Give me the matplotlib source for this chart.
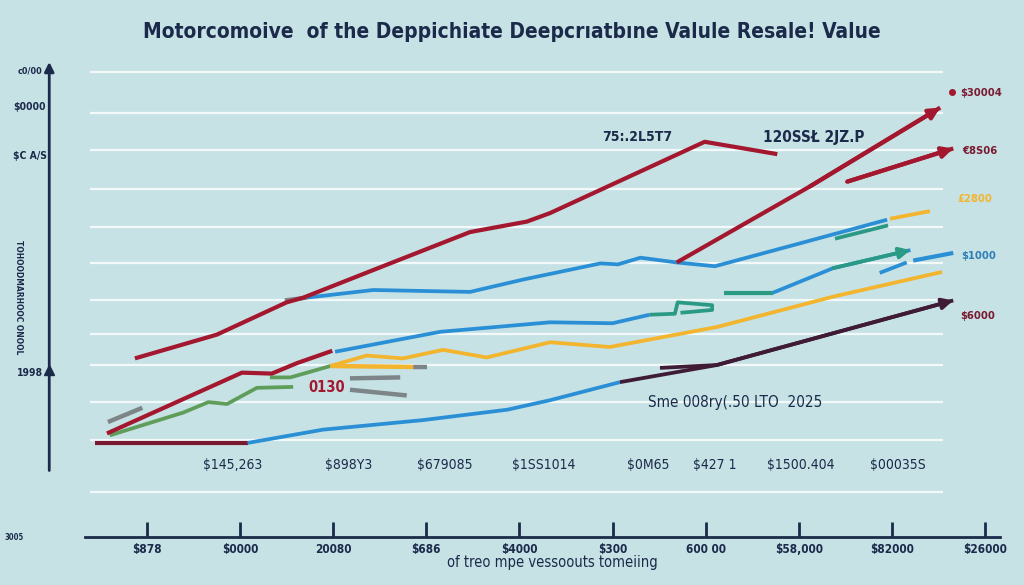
import matplotlib
matplotlib.use("Agg")
import matplotlib.pyplot as plt

plt.rcParams['font.family'] = ['DejaVu Sans']
plt.rcParams['font.stretch'] = 'condensed'

# ---- data (year, value in $k) ----
years_ticks = [2016, 2017, 2018, 2019, 2020, 2021, 2022, 2023, 2024, 2025]
tick_labels = ["$878", "$0000", "20080", "$686", "$4000", "$300", "600 00",
               "$58,000", "$82000", "$26000"]

red_top_x = [2015.87, 2016.75, 2017.50, 2017.68, 2018.43, 2019.47, 2020.08, 2020.33, 2021.99, 2022.77]
red_top_y = [18.8, 21.3, 24.7, 25.2, 28.1, 32.1, 33.2, 34.1, 41.6, 40.3]

red_rise_x = [2021.69, 2023.12, 2024.52]
red_rise_y = [28.9, 36.9, 45.2]

red_branch_x = [2023.52, 2024.66]
red_branch_y = [37.4, 40.9]

red_low_x = [2015.57, 2017.02, 2017.34, 2017.61, 2017.99]
red_low_y = [10.9, 17.3, 17.2, 18.3, 19.6]

blue_top_x = [2017.72, 2018.43, 2019.47, 2020.04, 2020.87, 2021.06, 2021.30, 2021.69, 2022.10, 2023.01, 2023.95]
blue_top_y = [25.2, 26.0, 25.8, 27.1, 28.8, 28.7, 29.4, 28.9, 28.5, 30.9, 33.4]

blue_mid_x = [2018.02, 2019.15, 2020.33, 2021.00, 2021.40]
blue_mid_y = [19.5, 21.6, 22.6, 22.5, 23.4]

teal_flag_x = [2021.40, 2021.67, 2021.70, 2022.07, 2022.07, 2021.73]
teal_flag_y = [23.4, 23.5, 24.7, 24.4, 23.9, 23.6]

teal_low_x = [2022.20, 2022.72]
teal_low_y = [25.7, 25.7]

blue_right_x = [2022.72, 2023.37, 2024.20]
blue_right_y = [25.7, 28.3, 30.2]

blue_strand_x = [2023.87, 2024.16]
blue_strand_y = [27.8, 28.9]

blue_streak_x = [2024.23, 2024.66]
blue_streak_y = [29.1, 29.9]

teal_top_x = [2023.39, 2023.96]
teal_top_y = [31.4, 32.8]

yellow_top_x = [2023.98, 2024.41]
yellow_top_y = [33.5, 34.3]

yellow_x = [2017.97, 2018.36, 2018.75, 2019.18, 2019.65, 2020.33, 2020.97, 2022.12, 2023.37, 2024.54]
yellow_y = [18.0, 19.1, 18.8, 19.7, 18.9, 20.5, 20.0, 22.1, 25.3, 27.9]

yellow_low_x = [2017.97, 2018.86]
yellow_low_y = [18.0, 17.9]

green_x = [2015.60, 2016.39, 2016.66, 2016.86, 2017.18, 2017.57]
green_y = [10.7, 13.1, 14.2, 14.0, 15.7, 15.8]

green_up_x = [2017.32, 2017.54, 2017.97]
green_up_y = [16.8, 16.8, 18.0]

gray_segs = [
    ([2015.58, 2015.95], [12.1, 13.6]),
    ([2018.18, 2018.72], [16.7, 16.8]),
    ([2018.18, 2018.79], [15.5, 14.9]),
    ([2017.48, 2017.72], [24.9, 25.2]),
    ([2018.86, 2019.01], [17.9, 17.9]),
]

base_x = [2015.44, 2017.08]
base_y = [9.9, 9.9]

blue_low_x = [2017.08, 2017.89, 2018.96, 2019.87, 2020.33, 2021.08]
blue_low_y = [9.9, 11.3, 12.3, 13.4, 14.4, 16.3]

purple_x = [2021.08, 2022.12, 2024.66]
purple_y = [16.3, 18.1, 24.9]

purple_short_x = [2021.51, 2022.12]
purple_short_y = [17.8, 18.1]

dot_x, dot_y = 2024.65, 46.8

grid_levels = [4.7, 10.2, 14.2, 18.1, 21.4, 24.9, 28.8, 32.6, 36.6, 40.7, 44.6, 48.9]

price_labels = ["$145,263", "$898Y3", "$679085", "$1SS1014", "$0M65", "$427 1",
                "$1500.404", "$00035S"]
price_px = [233, 349, 445, 544, 648, 715, 801, 898]

# ---- colours ----
BG = '#c6e2e5'
NAVY = '#1b2a4a'
RED = '#a3172f'
BLUE = '#2b8fd6'
YELLOW = '#f3b42e'
GREEN = '#5f9d5b'
TEAL = '#2a9a84'
GRAY = '#7d8588'
PURPLE = '#3f1b36'
DRED = '#7a1a31'

W, H = 1024, 585
fig = plt.figure(figsize=(W / 100, H / 100), dpi=100)
fig.patch.set_facecolor(BG)
ax = fig.add_axes([0, 0, 1, 1])
ax.set_facecolor(BG)
ax.set_xlim(2014.421, 2025.420)
ax.set_ylim(-5.053, 56.526)
ax.axis('off')


def fx(px):
    return px / W


def fy(py):
    return 1 - py / H


# grid
ax.hlines(grid_levels, 2015.39, 2024.55, color='white', lw=1.6, alpha=0.8, zorder=1)

lw = 2.7


def line(xs, ys, c, w=lw, arrow=False, z=3, ac=None):
    ax.plot(xs, ys, color=c, lw=w, solid_capstyle='butt', zorder=z)
    if arrow:
        ax.annotate('', xy=(xs[-1], ys[-1]), xytext=(xs[-2], ys[-2]),
                    arrowprops=dict(arrowstyle='-|>', color=ac or c, lw=w,
                                    mutation_scale=16, shrinkA=0, shrinkB=0),
                    zorder=z)


for gx, gy in gray_segs:
    line(gx, gy, GRAY, w=3.2)

line(base_x, base_y, DRED, w=3)
line(blue_low_x, blue_low_y, BLUE)
line(purple_x, purple_y, PURPLE, arrow=True)
line(purple_short_x, purple_short_y, PURPLE)

line(green_x, green_y, GREEN)
line(green_up_x, green_up_y, GREEN)
line(yellow_low_x, yellow_low_y, YELLOW, w=3.2)
line(yellow_x, yellow_y, YELLOW)
line(red_low_x, red_low_y, RED, w=3)

line(blue_mid_x, blue_mid_y, BLUE)
line(teal_flag_x, teal_flag_y, TEAL)
line(teal_low_x, teal_low_y, TEAL, w=3)
line(blue_right_x, blue_right_y, BLUE, arrow=True, ac=TEAL)
line(blue_strand_x, blue_strand_y, BLUE)
line(blue_streak_x, blue_streak_y, BLUE, w=3)

line(blue_top_x, blue_top_y, BLUE)
line(teal_top_x, teal_top_y, TEAL)
line(yellow_top_x, yellow_top_y, YELLOW)

line(red_top_x, red_top_y, RED, w=3)
line(red_rise_x, red_rise_y, RED, w=3, arrow=True)
line(red_branch_x, red_branch_y, RED, w=3, arrow=True)
ax.plot(dot_x, dot_y, 'o', color=RED, ms=4, zorder=4)

# axes drawn by hand
ax.annotate('', xy=(2014.95, 50.0), xytext=(2014.95, 7.0),
            arrowprops=dict(arrowstyle='-|>', color=NAVY, lw=2, mutation_scale=14,
                            shrinkA=0, shrinkB=0))
ax.plot(2014.95, 17.6, '^', color=NAVY, ms=7)
ax.plot([2015.33, 2025.16], [0, 0], color=NAVY, lw=2)
ax.vlines(years_ticks, 0, 1.6, color=NAVY, lw=2)
for yr, lab in zip(years_ticks, tick_labels):
    ax.text(yr, -1.35, lab, ha='center', va='center', fontsize=8.5,
            fontweight='bold', color=NAVY)

# text
fig.text(0.5, fy(32), "Motorcomoive  of the Deppichiate Deepcrıatbıne Valule Resale! Value",
         ha='center', va='center', fontsize=15, fontweight='bold', color=NAVY)
fig.text(fx(30), fy(71), "c0/00", ha='center', va='center', fontsize=6.5, fontweight='bold', color=NAVY)
fig.text(fx(30), fy(107), "$0000", ha='center', va='center', fontsize=7.5, fontweight='bold', color=NAVY)
fig.text(fx(30), fy(156), "$C A/S", ha='center', va='center', fontsize=7.5, fontweight='bold', color=NAVY)
fig.text(fx(18), fy(297), "TOHOODMARHOOC ONOOL", ha='center', va='center', rotation=270,
         fontsize=6, fontweight='bold', color=NAVY)
fig.text(fx(30), fy(373), "1998", ha='center', va='center', fontsize=7.5, fontweight='bold', color=NAVY)
fig.text(fx(14), fy(537), "3005", ha='center', va='center', fontsize=5.5, fontweight='bold', color=NAVY)

fig.text(fx(637), fy(137), "75:.2L5T7", ha='center', va='center', fontsize=10, fontweight='bold', color=NAVY)
fig.text(fx(814), fy(137), "120SSŁ 2JZ.P", ha='center', va='center', fontsize=11, fontweight='bold', color=NAVY)
fig.text(fx(327), fy(387), "0130", ha='center', va='center', fontsize=10.5, fontweight='bold', color=RED)
fig.text(fx(735), fy(403), "Sme 008ry(.50 LTO  2025", ha='center', va='center', fontsize=11, color=NAVY)

fig.text(fx(981), fy(93), "$30004", ha='center', va='center', fontsize=8, fontweight='bold', color=DRED)
fig.text(fx(980), fy(151), "€8S06", ha='center', va='center', fontsize=8, fontweight='bold', color=DRED)
fig.text(fx(975), fy(199), "£2800", ha='center', va='center', fontsize=8, fontweight='bold', color=YELLOW)
fig.text(fx(979), fy(256), "$1000", ha='center', va='center', fontsize=8, fontweight='bold', color='#2e7fb8')
fig.text(fx(978), fy(316), "$6000", ha='center', va='center', fontsize=8, fontweight='bold', color=DRED)

for px, lab in zip(price_px, price_labels):
    fig.text(fx(px), fy(465), lab, ha='center', va='center', fontsize=10, color=NAVY)

fig.text(fx(552), fy(563), "of treo mpe vessoouts tomeiing", ha='center', va='center',
         fontsize=10.5, color=NAVY)

fig.savefig("out.png", dpi=100, facecolor=BG)
